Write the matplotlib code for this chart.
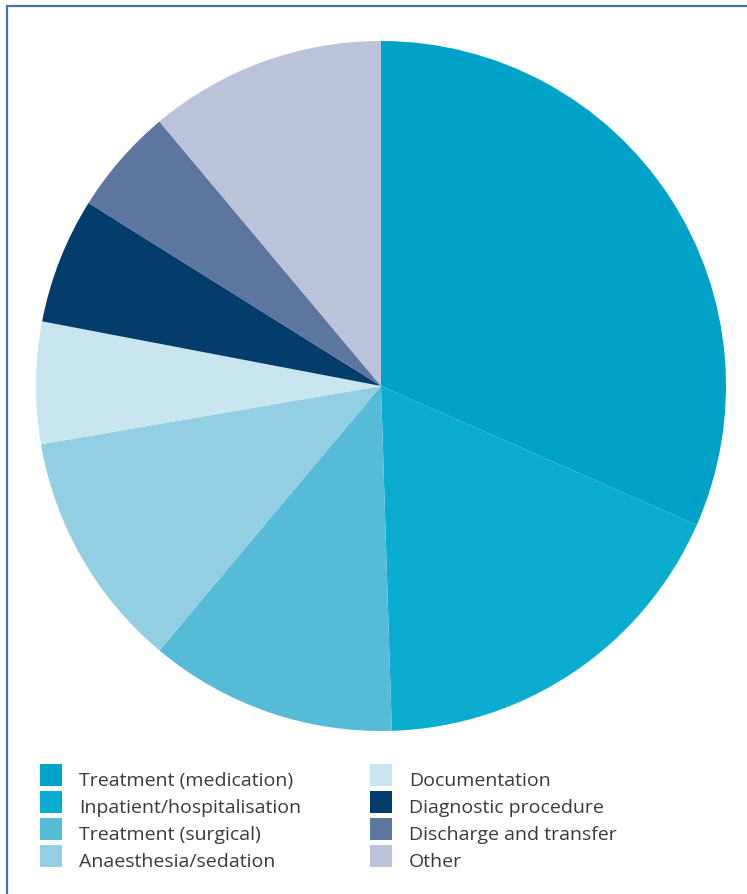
import matplotlib
matplotlib.use('Agg')
import matplotlib.pyplot as plt
from matplotlib.patches import Rectangle

# Shares of each category (percent)
labels = ['Treatment (medication)', 'Inpatient/hospitalisation', 'Treatment (surgical)',
          'Anaesthesia/sedation', 'Documentation', 'Diagnostic procedure',
          'Discharge and transfer', 'Other']
values = [31.6, 17.9, 11.6, 11.2, 5.7, 5.9, 5.0, 11.1]
colors = ['#00A2C7', '#0AADCF', '#56BBD6', '#93CFE3', '#C8E5F0', '#043C6C',
          '#5D76A0', '#BAC3D9']

W, H = 747, 895
fig = plt.figure(figsize=(W / 100, H / 100), dpi=100)
ax = fig.add_axes([0, 0, 1, 1])

wedges, _ = ax.pie(values, colors=colors, startangle=90, counterclock=False,
                   center=(381, H - 387), radius=345, frame=True,
                   wedgeprops=dict(linewidth=0))
ax.set_xlim(0, W)
ax.set_ylim(0, H)
ax.set_aspect('auto')
ax.axis('off')

# frame (only top and left edges visible in the crop)
ax.plot([6.5, 6.5, W + 5], [-5, H - 6.5, H - 6.5], color='#4A75A1', lw=1.6,
        solid_joinstyle='miter', clip_on=False)

# legend: two columns of four, square swatches
for i, (lab, col) in enumerate(zip(labels, colors)):
    c, r = divmod(i, 4)
    x0 = 40 if c == 0 else 370
    top = 765 + 27 * r
    ax.add_patch(Rectangle((x0, H - top - 22), 22, 22, facecolor=col, lw=0))
    ax.text(x0 + 39, H - top - 21.5, lab, family='Open Sans', fontsize=14,
            color='#3A3A3A', va='baseline', ha='left')

fig.savefig('out.png', dpi=100)
